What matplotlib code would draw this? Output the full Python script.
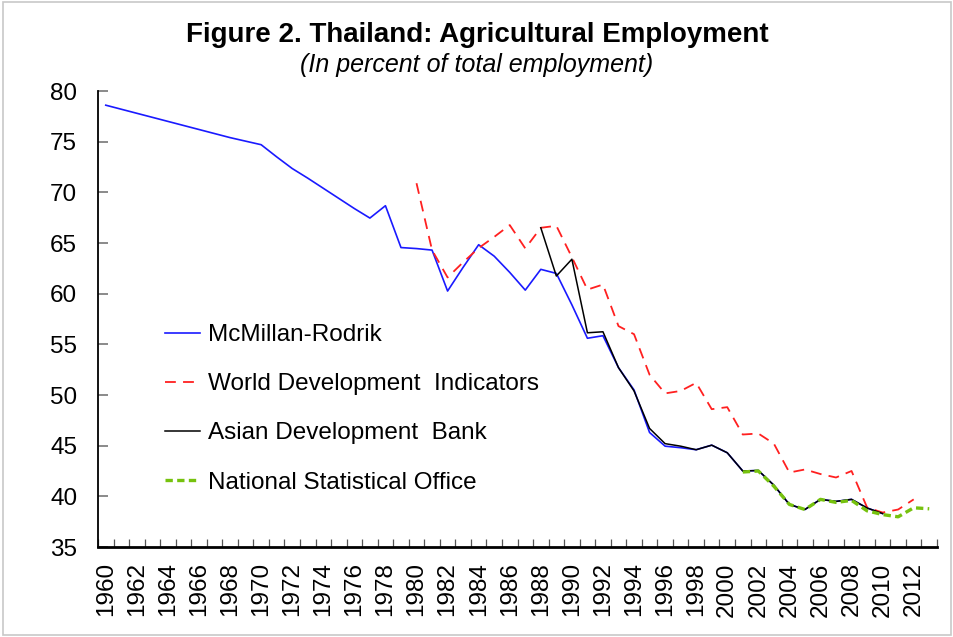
import matplotlib.pyplot as plt
import matplotlib.patches as mpatches
from matplotlib.ticker import FixedLocator

plt.rcParams["font.family"] = ["Liberation Sans", "DejaVu Sans"]

# McMillan-Rodrik series, 1960-2010
mr_years = list(range(1960, 2011))
mr_values = [
    78.6, 78.2, 77.8, 77.4, 77.0, 76.6, 76.2, 75.8, 75.4, 75.05,
    74.7, 73.5, 72.35, 71.4, 70.4, 69.4, 68.4, 67.46, 68.68, 64.55,
    64.45, 64.3, 60.26, 62.6, 64.83, 63.7, 62.1, 60.35, 62.4, 62.0,
    58.9, 55.6, 55.85, 52.7, 50.5, 46.3, 44.95, 44.8, 44.6, 45.05,
    44.3, 42.5, 42.55, 41.1, 39.2, 38.7, 39.7, 39.5, 39.7, 38.85,
    38.3,
]

# World Development Indicators, 1980-2012
wdi_years = list(range(1980, 2013))
wdi_values = [
    70.9, 64.3, 61.6, 63.1, 64.5, 65.6, 66.77, 64.47, 66.5, 66.7,
    63.6, 60.4, 60.9, 56.8, 56.0, 52.0, 50.16, 50.4, 51.2, 48.6,
    48.8, 46.1, 46.2, 45.2, 42.35, 42.65, 42.2, 41.86, 42.5, 38.9,
    38.4, 38.7, 39.7,
]

# Asian Development Bank, 1988-2010
adb_years = list(range(1988, 2011))
adb_values = [
    66.5, 61.74, 63.4, 56.14, 56.24, 52.7, 50.4, 46.7, 45.2, 44.95,
    44.6, 45.05, 44.3, 42.5, 42.55, 41.1, 39.2, 38.7, 39.7, 39.5,
    39.7, 38.85, 38.3,
]

# National Statistical Office, 2001-2013
nso_years = list(range(2001, 2014))
nso_values = [
    42.4, 42.5, 41.0, 39.2, 38.7, 39.7, 39.4, 39.6, 38.57, 38.2,
    37.98, 38.87, 38.77,
]

fig = plt.figure(figsize=(9.54, 6.37), dpi=100)
ax = fig.add_axes([98 / 954, 1 - 547 / 637, (937 - 98) / 954, (547 - 91) / 637])

ax.plot(mr_years, mr_values, color="#1a1aff", lw=1.2, label="McMillan-Rodrik", zorder=2)
ax.plot(wdi_years, wdi_values, color="#ff2020", lw=1.3, dashes=(6, 4),
        label="World Development  Indicators", zorder=3)
ax.plot(adb_years, adb_values, color="black", lw=1.1, label="Asian Development  Bank", zorder=4)
ax.plot(nso_years, nso_values, color="#76c20e", lw=2.4, dashes=(2.2, 1.3),
        label="National Statistical Office", zorder=5)

ax.set_xlim(1959.5, 2013.5)
ax.set_ylim(35, 80)
ax.set_yticks(range(35, 81, 5))
ax.set_xticks(range(1960, 2013, 2))
ax.set_xticklabels([str(y) for y in range(1960, 2013, 2)], rotation=90)
ax.xaxis.set_minor_locator(FixedLocator([1959.5 + k for k in range(55)]))

ax.tick_params(axis="x", which="major", length=0, pad=11, labelsize=17.5)
ax.tick_params(axis="x", which="minor", direction="in", length=6, color="#555555", width=0.9)
ax.tick_params(axis="y", direction="in", length=7, color="#777777", width=1.2, pad=15, labelsize=17.5)

for side in ("top", "right"):
    ax.spines[side].set_visible(False)
ax.spines["left"].set_linewidth(1.3)
ax.spines["bottom"].set_linewidth(2.0)

ax.legend(loc="upper left", bbox_to_anchor=(165 / 954, 1 - 324 / 637),
          bbox_transform=fig.transFigure, frameon=False, fontsize=17.5,
          handlelength=1.45, handletextpad=0.3, labelspacing=1.12,
          borderpad=0, borderaxespad=0)

fig.text(0.5, 1 - 35 / 637, "Figure 2. Thailand: Agricultural Employment",
         ha="center", va="center", fontsize=20, fontweight="bold")
fig.text(0.5, 1 - 65 / 637, "(In percent of total employment)",
         ha="center", va="center", fontsize=18, style="italic")

fig.patches.append(mpatches.Rectangle((0.003, 0.003), 0.994, 0.994, transform=fig.transFigure,
                                      fill=False, edgecolor="#c8c8c8", lw=1.2))

fig.savefig("out.png", dpi=100)
